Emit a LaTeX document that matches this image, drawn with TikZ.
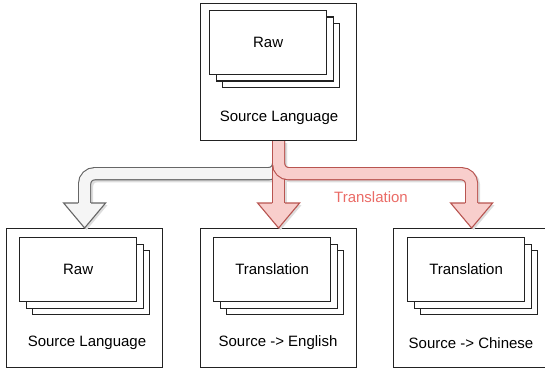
\documentclass[tikz,border=0pt]{standalone}
\usepackage{fontspec}
\setmainfont{Liberation Sans}
\usetikzlibrary{calc}
\definecolor{redfill}{HTML}{F8CECC}
\definecolor{redline}{HTML}{B85450}
\definecolor{grayfill}{HTML}{F5F5F5}
\definecolor{grayline}{HTML}{666666}
\definecolor{labelred}{HTML}{EA6B66}
\definecolor{shadowc}{HTML}{DDDDDD}
\definecolor{boxline}{HTML}{222222}
\newcommand\cardstack[4]{%
  \node[card] (#1c) at ({#2+13},{#3+13}) {};
  \node[card] (#1b) at ({#2+6.5},{#3+6.5}) {};
  \node[card] (#1a) at (#2,#3) {#4};
}
\newcommand\headfill[2]{%
  \fill[#1] ($(#2)+(-21,-25)$) -- ($(#2)+(21,-25)$) -- (#2) -- cycle;
}
\newcommand\headline[2]{%
  \draw[#1, line width=1.1, line join=miter] ($(#2)+(-6.6,-25)$) -- ($(#2)+(-21,-25)$) -- (#2) -- ($(#2)+(21,-25)$) -- ($(#2)+(6.6,-25)$);
}
\begin{document}
\begin{tikzpicture}[x=1pt,y=-1pt,font=\fontsize{15}{18}\selectfont,
  outerbox/.style={draw=boxline, line width=1.2, fill=white, minimum width=156, inner sep=0, anchor=north west},
  card/.style={draw=boxline, line width=1.2, fill=white, minimum width=117, minimum height=64, inner sep=0, anchor=north west},
  txt/.style={inner sep=0, anchor=center},
  redshaft/.style={draw=redline, double=redfill, double distance=11, line width=1.1, rounded corners=10},
  grayshaft/.style={draw=grayline, double=grayfill, double distance=11, line width=1.1, rounded corners=10},
  shadowshaft/.style={draw=shadowc, line width=13.2, rounded corners=10}]
\useasboundingbox (0,0) rectangle (545,371);
\clip (0,0) rectangle (545,371);
% boxes
\node[outerbox, minimum height=137] (top) at (200,3) {};
\cardstack{tc}{209}{10}{Raw}
\node[txt] (toplab) at (279,118) {Source Language};
\node[outerbox, minimum height=139] (left) at (6,228) {};
\cardstack{lc}{19}{237}{Raw}
\node[txt] (leftlab) at (87,343) {Source Language};
\node[outerbox, minimum height=139] (mid) at (200,228) {};
\cardstack{mc}{213}{237}{Translation}
\node[txt] (midlab) at (278,343) {Source -> English};
\node[outerbox, minimum height=139] (right) at (393,228) {};
\cardstack{rc}{407}{237}{Translation}
\node[txt] (rightlab) at (471,343) {Source -> Chinese};
% arrow anchor points
\coordinate (gend) at ($(left.north)+(0,-25)$);
\coordinate (mend) at ($(mid.north)+(0,-25)$);
\coordinate (rend) at ($(right.north)+(0,-25)$);
% shadows
\begin{scope}[transform canvas={shift={(2,2)}}]
  \draw[shadowshaft] (top.south) -- ++(0,32.5) -| (gend);
  \draw[shadowshaft] (top.south) -- (mend);
  \draw[shadowshaft] (top.south) -- ++(0,32.5) -| (rend);
  \headfill{shadowc}{left.north}
  \headfill{shadowc}{mid.north}
  \headfill{shadowc}{right.north}
\end{scope}
% gray arrow
\draw[grayshaft] (top.south) -- ++(0,32.5) -| (gend);
\headfill{grayfill}{left.north}
\headline{grayline}{left.north}
% red middle arrow
\draw[redshaft] (top.south) -- (mend);
\headfill{redfill}{mid.north}
\headline{redline}{mid.north}
% red right arrow
\draw[redshaft] (top.south) -- ++(0,32.5) -| (rend);
\headfill{redfill}{right.north}
\headline{redline}{right.north}
\node[txt, text=labelred] (tlabel) at (371,197) {Translation};
\end{tikzpicture}
\end{document}
